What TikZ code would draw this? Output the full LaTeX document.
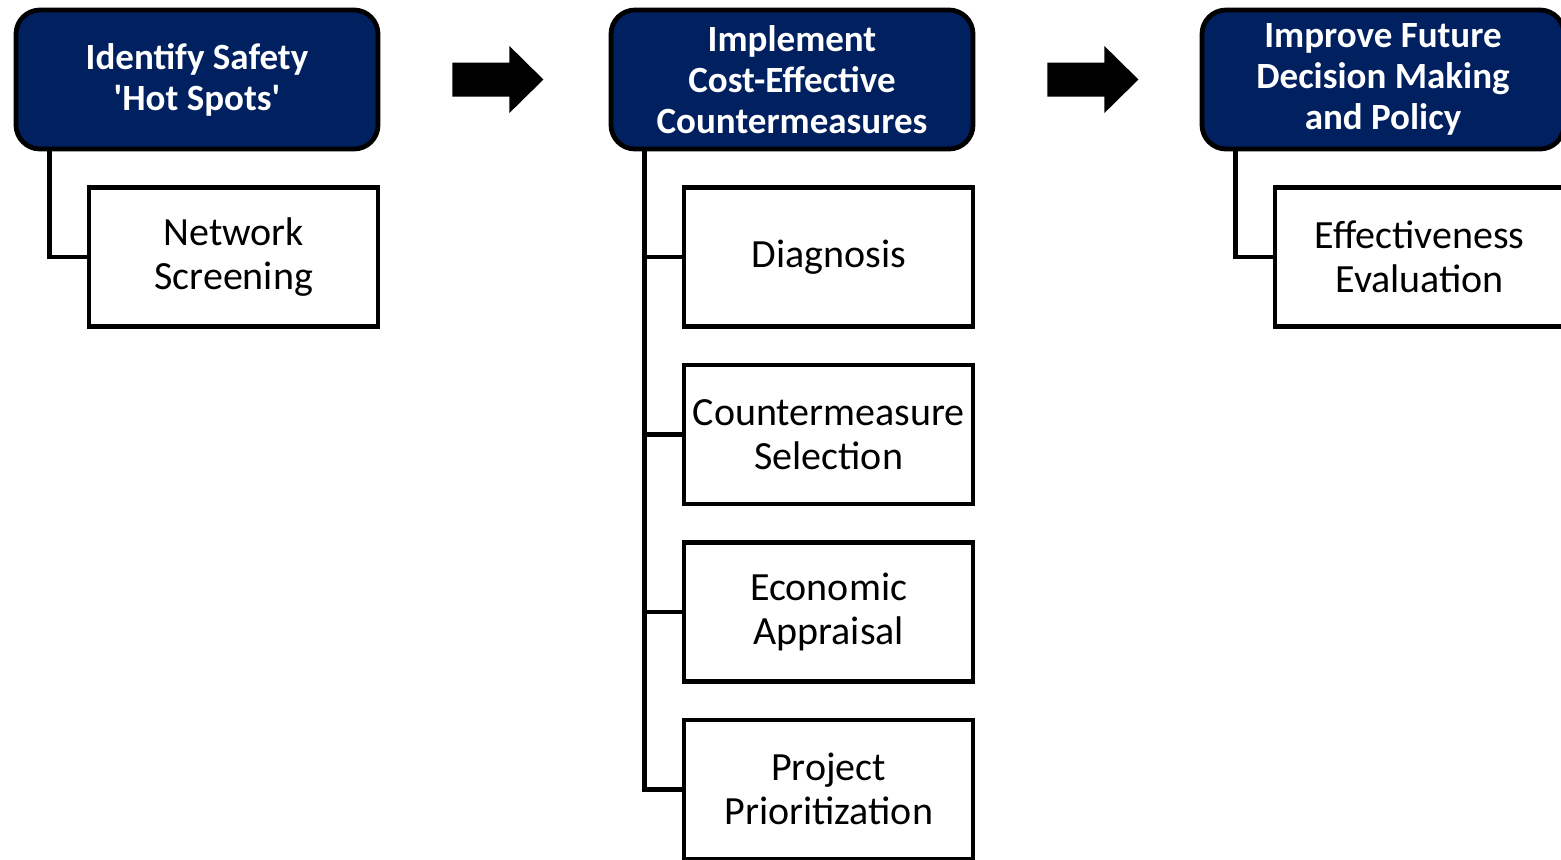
\documentclass[tikz,border=0pt]{standalone}
\usepackage{fontspec}
\setmainfont{Carlito}
\usepackage{xcolor}
\usepackage{tikz}
\usetikzlibrary{shapes}
\usetikzlibrary{arrows}
\usetikzlibrary{positioning}

\definecolor{headblue}{RGB}{0,32,96}

\begin{document}
\begin{tikzpicture} [x=0.5pt, y=-0.5pt,
            % ----- Node definitions ----- %
            headnode/.style = {
                draw,
                rectangle,
                rounded corners = 12pt,
                line width = 2.4pt,
                fill = headblue,
                text = white,
                minimum width = 181pt,
                minimum height = 69.5pt,
                align = center,
                font = \bfseries\fontsize{18.5}{20.5}\selectfont
            },
            tasknode/.style = {
                draw,
                rectangle,
                line width = 2.2pt,
                fill = white,
                minimum width = 144.5pt,
                minimum height = 69.5pt,
                align = center,
                font = \fontsize{20}{22}\selectfont
            },
            branch/.style = {
                line width = 2.3pt
            },
    ]

        \useasboundingbox (0,0) rectangle (1561,859);

        % ----- Node constructions ----- %
        \node [headnode] (hotspots) at (197,79.5)
            {Identify Safety \\ \textquotesingle Hot Spots\textquotesingle};
        \node [headnode] (implement) at (792,79.5)
            {Implement \\ Cost-Effective \\ Countermeasures};
        \node [headnode] (future) at (1383,79.5)
            {Improve Future \\ Decision Making \\ and Policy};

        \node [tasknode, below left=17pt and 0pt of hotspots.south east] (screening)
            {Network \\ Screening};

        \node [tasknode, below left=17pt and 0pt of implement.south east] (diagnosis)
            {Diagnosis};
        \node [tasknode, below=17pt of diagnosis] (selection)
            {Countermeasure \\ Selection};
        \node [tasknode, below=17pt of selection] (appraisal)
            {Economic \\ Appraisal};
        \node [tasknode, below=17pt of appraisal] (prioritization)
            {Project \\ Prioritization};

        \node [tasknode, below left=17pt and 0pt of future.south east] (evaluation)
            {Effectiveness \\ Evaluation};

        % ----- Stage arrows ----- %
        \coordinate (arrowone) at ([xshift=36pt]hotspots.east);
        \coordinate (arrowtwo) at ([xshift=36pt]implement.east);
        \foreach \tail in {arrowone, arrowtwo}
            \fill (\tail) ++(0,-17) -- ++(57,0) -- ++(0,-16.5) -- ++(34,33.5)
                -- ++(-34,33.5) -- ++(0,-16.5) -- ++(-57,0) -- cycle;

        % ----- Connectors ----- %
        \coordinate (spineone) at ([xshift=18pt]hotspots.south west);
        \coordinate (spinetwo) at ([xshift=18pt]implement.south west);
        \coordinate (spinethree) at ([xshift=18pt]future.south west);

        \draw [branch] (spineone) |- (screening.west);
        \draw [branch] (spinetwo) |- (prioritization.west);
        \foreach \task in {diagnosis, selection, appraisal}
            \draw [branch] (spinetwo |- \task.west) -- (\task.west);
        \draw [branch] (spinethree) |- (evaluation.west);

\end{tikzpicture}
\end{document}
